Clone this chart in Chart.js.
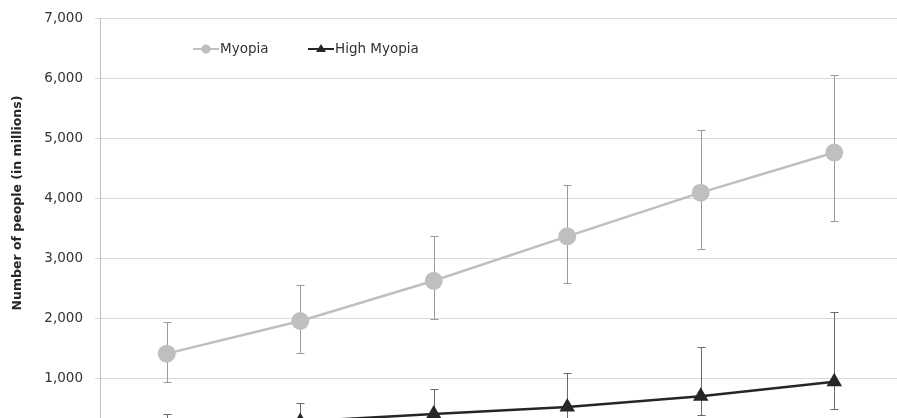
<!DOCTYPE html>
<html>
<head>
<meta charset="utf-8">
<script src="https://cdn.jsdelivr.net/npm/chart.js@4"></script>
<style>
  html, body { margin: 0; padding: 0; background: #fff; overflow: hidden; width: 897px; height: 418px; }
  canvas { display: block; }
</style>
</head>
<body>
<canvas id="myopiaChart" width="910" height="470"></canvas>
<script>
// values (millions of people)
const years = ['2000', '2010', '2020', '2030', '2040', '2050'];
const myopia = [1406, 1950, 2620, 3361, 4089, 4758];
const myopiaLow = [932, 1422, 1976, 2578, 3145, 3620];
const myopiaHigh = [1932, 2543, 3366, 4217, 5128, 6053];
const highMyopia = [163, 277, 399, 517, 696, 938];
const highMyopiaLow = [86, 135, 160, 217, 389, 482];
const highMyopiaHigh = [405, 589, 811, 1085, 1518, 2100];
const yTicks = [0, 1000, 2000, 3000, 4000, 5000, 6000, 7000];
const yTitle = 'Number of people (in millions)';

const errorRanges = [
    { low: myopiaLow, high: myopiaHigh, color: '#9a9a9a' },
    { low: highMyopiaLow, high: highMyopiaHigh, color: '#6a6a6a' }
];

// error bars, drawn behind the lines and markers
const errorBars = {
    id: 'errorBars',
    beforeDatasetsDraw(chart) {
        const ctx = chart.ctx;
        const y = chart.scales.y;
        ctx.save();
        ctx.lineWidth = 1;
        errorRanges.forEach((r, di) => {
            const meta = chart.getDatasetMeta(di);
            ctx.strokeStyle = r.color;
            meta.data.forEach((pt, i) => {
                const x = Math.round(pt.x) + 0.5;
                const top = Math.round(y.getPixelForValue(r.high[i])) + 0.5;
                const bot = Math.round(y.getPixelForValue(r.low[i])) + 0.5;
                ctx.beginPath();
                ctx.moveTo(x, top);
                ctx.lineTo(x, bot);
                ctx.moveTo(x - 4, top);
                ctx.lineTo(x + 4, top);
                ctx.moveTo(x - 4, bot);
                ctx.lineTo(x + 4, bot);
                ctx.stroke();
            });
        });
        ctx.restore();
    }
};

// legend inside the plot and the axis title (it sits a bit above the plot's middle)
const insideLegend = {
    id: 'insideLegend',
    afterDraw(chart) {
        const ctx = chart.ctx;
        const items = [
            { text: 'Myopia', x: 193, color: '#bfbfbf', style: 'circle' },
            { text: 'High Myopia', x: 308, color: '#262626', style: 'triangle' }
        ];
        const ly = 49;
        ctx.save();
        ctx.font = '13.5px "DejaVu Sans", sans-serif';
        ctx.textBaseline = 'middle';
        items.forEach(it => {
            ctx.strokeStyle = it.color;
            ctx.fillStyle = it.color;
            ctx.lineWidth = 2;
            ctx.beginPath();
            ctx.moveTo(it.x, ly);
            ctx.lineTo(it.x + 26, ly);
            ctx.stroke();
            ctx.beginPath();
            if (it.style === 'circle') {
                ctx.arc(it.x + 13, ly, 4.5, 0, Math.PI * 2);
            } else {
                ctx.moveTo(it.x + 13, ly - 5);
                ctx.lineTo(it.x + 18, ly + 3);
                ctx.lineTo(it.x + 8, ly + 3);
                ctx.closePath();
            }
            ctx.fill();
            ctx.fillStyle = '#333333';
            ctx.fillText(it.text, it.x + 27, ly);
        });

        ctx.translate(18, 203);
        ctx.rotate(-Math.PI / 2);
        ctx.font = 'bold 12.5px "DejaVu Sans", sans-serif';
        ctx.textAlign = 'center';
        ctx.fillStyle = '#262626';
        ctx.fillText(yTitle, 0, 0);
        ctx.restore();
    }
};

const ctx = document.getElementById('myopiaChart').getContext('2d');
new Chart(ctx, {
    type: 'line',
    data: {
        labels: years,
        datasets: [
            {
                label: 'Myopia',
                data: myopia,
                borderColor: '#bfbfbf',
                backgroundColor: '#bfbfbf',
                borderWidth: 2.5,
                tension: 0,
                pointStyle: 'circle',
                pointRadius: 9,
                pointBorderWidth: 0
            },
            {
                label: 'High Myopia',
                data: highMyopia,
                borderColor: '#262626',
                backgroundColor: '#262626',
                borderWidth: 2.5,
                tension: 0,
                pointStyle: 'triangle',
                pointRadius: 9,
                pointBorderWidth: 0
            }
        ]
    },
    options: {
        responsive: false,
        animation: false,
        layout: {
            padding: { top: 18, right: 3, bottom: 2, left: 0 }
        },
        plugins: {
            legend: { display: false },
            tooltip: { enabled: false }
        },
        scales: {
            x: {
                offset: true,
                grid: { display: false },
                border: { display: false },
                ticks: { display: false },
                afterFit(scale) { scale.height = 30; }
            },
            y: {
                min: 0,
                max: 7000,
                afterBuildTicks(scale) { scale.ticks = yTicks.map(v => ({ value: v })); },
                afterFit(scale) {
                    scale.width = 100;
                    scale.paddingTop = 0;
                    scale.paddingBottom = 0;
                },
                grid: {
                    color: '#d9d9d9',
                    tickColor: '#d9d9d9',
                    tickLength: 5,
                    lineWidth: 1
                },
                border: { color: '#bfbfbf' },
                ticks: {
                    padding: 12,
                    color: '#333333',
                    font: { family: '"DejaVu Sans", sans-serif', size: 13.5 },
                    callback: v => v.toLocaleString('en-US')
                }
            }
        }
    },
    plugins: [errorBars, insideLegend]
});
</script>
</body>
</html>
